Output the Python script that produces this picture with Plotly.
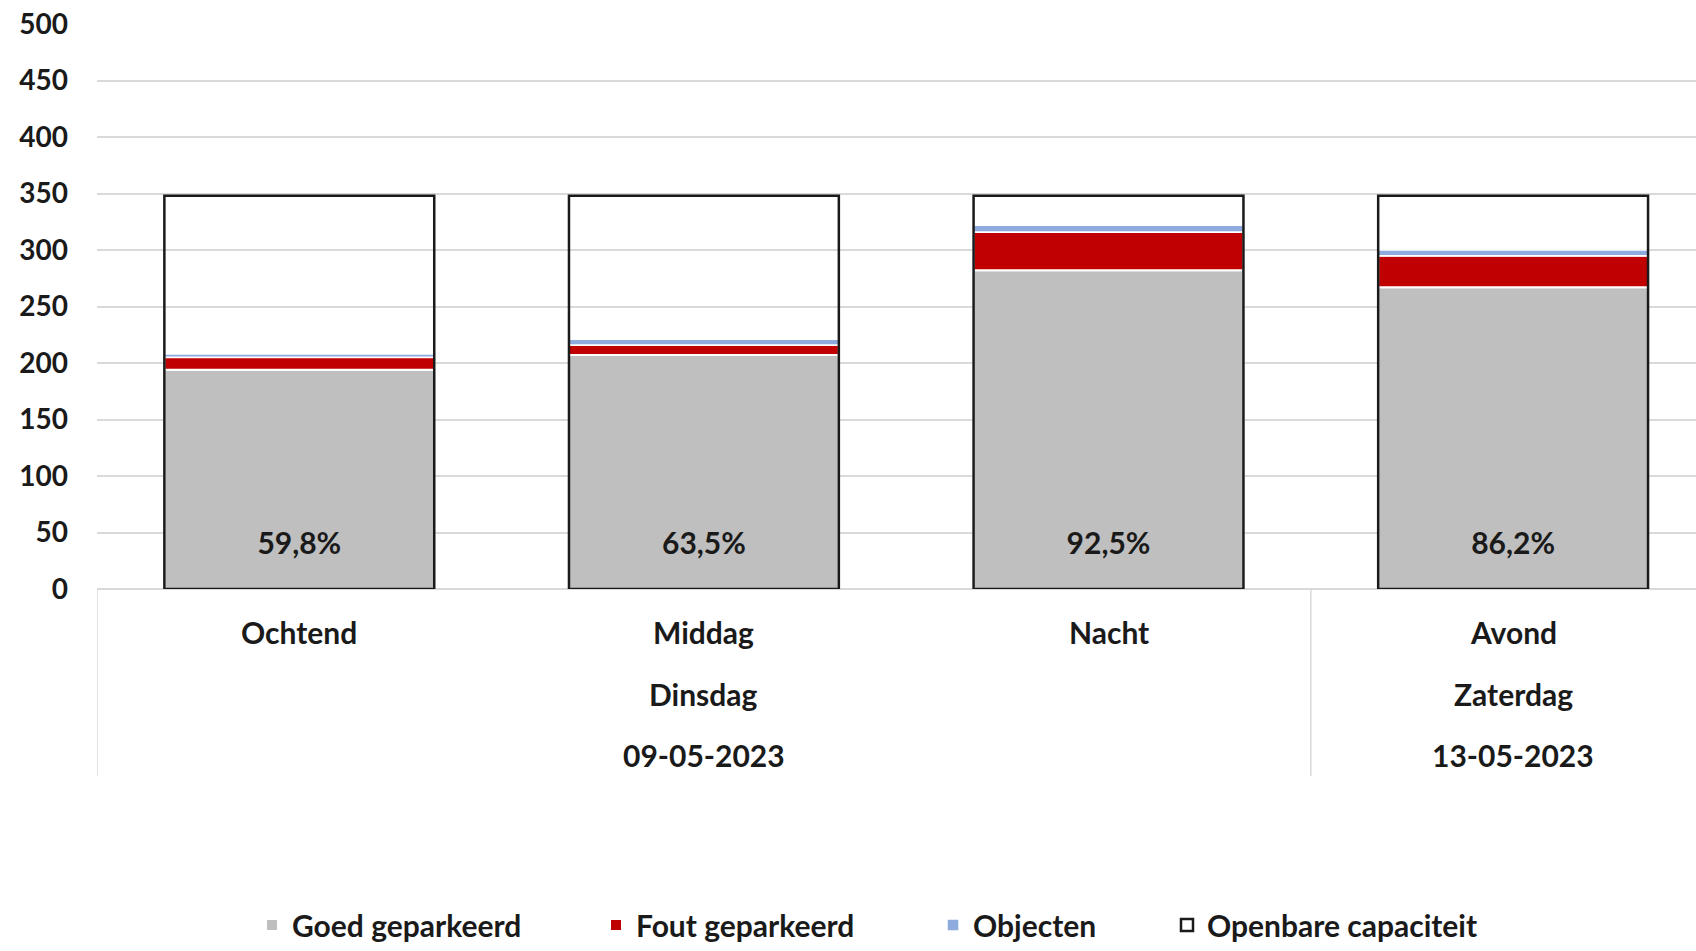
import plotly.graph_objects as go

categories = ["Ochtend", "Middag", "Nacht", "Avond"]
goed = [194, 207, 282, 267]
fout = [11, 9, 34, 28]
objecten = [3, 5, 6, 5]
capaciteit = [348, 348, 348, 348]
pct_labels = ["59,8%", "63,5%", "92,5%", "86,2%"]
days = ["Dinsdag", "Zaterdag"]
dates = ["09-05-2023", "13-05-2023"]
group_centers = ["Middag", "Avond"]
y_ticks = list(range(0, 501, 50))

FONT = "Lato, Open Sans, sans-serif"
TXT = "#1a1a1a"
W = 0.667
SZ = 30

base_fout = [g for g in goed]
base_obj = [g + f for g, f in zip(goed, fout)]

fig = go.Figure()
fig.add_trace(go.Bar(x=categories, y=goed, base=[0] * 4, width=W, name="Goed geparkeerd",
                     marker=dict(color="#bfbfbf", line=dict(color="white", width=2)),
                     legend="legend"))
fig.add_trace(go.Bar(x=categories, y=fout, base=base_fout, width=W, name="Fout geparkeerd",
                     marker=dict(color="#c00000", line=dict(color="white", width=2)),
                     legend="legend2"))
fig.add_trace(go.Bar(x=categories, y=objecten, base=base_obj, width=W, name="Objecten",
                     marker=dict(color="#8faadc", line=dict(color="white", width=1.5)),
                     legend="legend3"))
fig.add_trace(go.Bar(x=categories, y=capaciteit, base=[0] * 4, width=W, name="Openbare capaciteit",
                     marker=dict(color="rgba(0,0,0,0)", line=dict(color="#1a1a1a", width=2.5)),
                     legend="legend4"))
fig.add_trace(go.Scatter(x=categories, y=[38] * 4, mode="text", text=pct_labels,
                         textfont=dict(family=FONT, size=SZ, color=TXT, weight="bold"),
                         showlegend=False, hoverinfo="skip"))

# screen geometry (pixels): plot from y=24 to y=595, x from 97 to 1696
TOP, BOT = 24.0, 595.0
plot_h = BOT - TOP
def py(p):
    return (BOT - p) / plot_h

ann = []
for c in categories:
    ann.append(dict(x=c, y=py(638), xref="x", yref="paper", text=c, showarrow=False,
                    yanchor="middle", font=dict(family=FONT, size=SZ, color=TXT, weight="bold")))
for d, dt, c in zip(days, dates, group_centers):
    ann.append(dict(x=c, y=py(701), xref="x", yref="paper", text=d, showarrow=False,
                    yanchor="middle", font=dict(family=FONT, size=SZ, color=TXT, weight="bold")))
    ann.append(dict(x=c, y=py(763), xref="x", yref="paper", text=dt, showarrow=False,
                    yanchor="middle", font=dict(family=FONT, size=SZ, color=TXT, weight="bold")))

shapes = []
for xs in [-0.5, 2.5]:
    shapes.append(dict(type="line", xref="x", yref="paper", x0=xs, x1=xs, y0=0, y1=py(784),
                       line=dict(color="#d9d9d9", width=1.5)))

leg_common = dict(orientation="h", yanchor="middle", xanchor="left", y=py(935),
                  font=dict(family=FONT, size=SZ, color=TXT, weight="bold"),
                  bgcolor="rgba(0,0,0,0)", borderwidth=0, itemclick=False)

def lx(p):
    return (p - 97) / 1599.0

fig.update_layout(
    width=1696, height=951,
    margin=dict(l=97, r=0, t=int(TOP), b=951 - int(BOT)),
    paper_bgcolor="white", plot_bgcolor="white",
    barmode="overlay",
    showlegend=True,
    font=dict(family=FONT, size=SZ, color=TXT),
    annotations=ann,
    shapes=shapes,
    legend=dict(x=lx(252), **leg_common),
    legend2=dict(x=lx(596), **leg_common),
    legend3=dict(x=lx(933), **leg_common),
    legend4=dict(x=lx(1167), **leg_common),
    xaxis=dict(type="category", range=[-0.5, 3.452], showticklabels=False, showgrid=False,
               zeroline=False, showline=False, ticks="", automargin=False),
    yaxis=dict(range=[0, 500], tickvals=y_ticks, showgrid=True, gridcolor="#d9d9d9", gridwidth=1.5,
               zeroline=True, zerolinecolor="#d9d9d9", zerolinewidth=2, showline=False, ticks="",
               ticklabelstandoff=28, automargin=False,
               tickfont=dict(family=FONT, size=28, color=TXT, weight="bold")),
)

fig.write_html("out.html", config={"displayModeBar": False},
               post_script="document.body.style.margin='0';document.body.style.overflow='hidden';")
